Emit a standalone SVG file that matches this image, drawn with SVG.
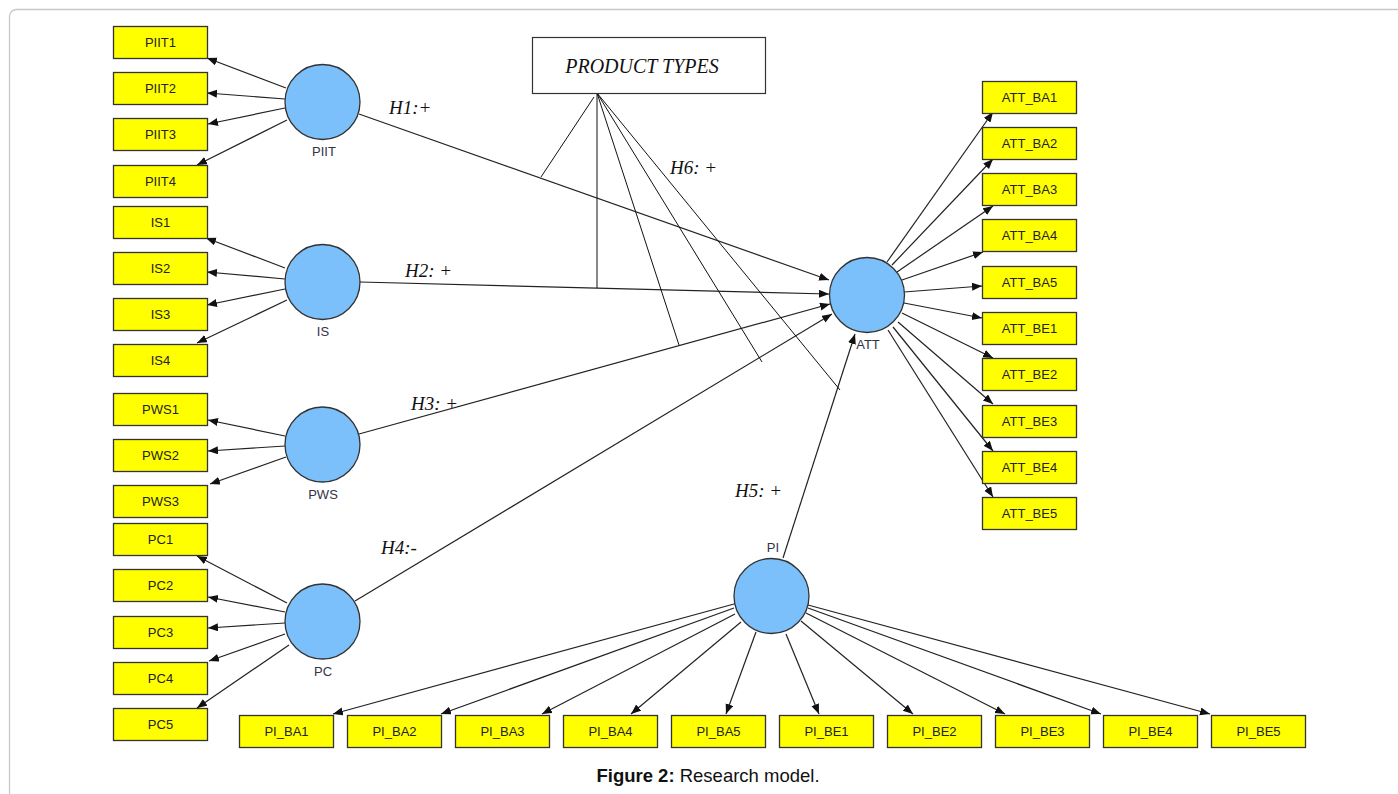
<svg xmlns="http://www.w3.org/2000/svg" width="1398" height="794" viewBox="0 0 1398 794">
<defs>
<marker id="ah" markerUnits="userSpaceOnUse" markerWidth="11" markerHeight="9" refX="10" refY="4" orient="auto">
<path d="M0,0 L10,4 L0,8 z" fill="#111"/>
</marker>
<style>
.box{fill:#FFFF00;stroke:#333;stroke-width:1.3}
.bt{font-family:"Liberation Sans",Arial,sans-serif;font-size:13px;fill:#222;text-anchor:middle}
.lv{fill:#7BBFFB;stroke:#333;stroke-width:1.3}
.lt{font-family:"Liberation Sans",Arial,sans-serif;font-size:13px;fill:#334;text-anchor:middle}
.e{stroke:#222;stroke-width:1.2;fill:none;marker-end:url(#ah)}
.m{stroke:#111;stroke-width:1;fill:none}
.h{font-family:"Liberation Serif","Times New Roman",serif;font-style:italic;font-size:19px;fill:#111}
.pt{font-size:20px}
</style>
</defs>
<rect x="9.5" y="9.5" width="1400" height="800" rx="7" fill="#fff" stroke="#c8c8c8" stroke-width="1.3"/>

<g id="connectors">
<path class="e" d="M286,88 L207,58"/>
<path class="e" d="M285,99 L207,93"/>
<path class="e" d="M285,108 L208,124"/>
<path class="e" d="M287,120 L197,165"/>
<path class="e" d="M285,268 L206,238"/>
<path class="e" d="M285,279 L207,272"/>
<path class="e" d="M285,289 L207,305"/>
<path class="e" d="M287,300 L197,343"/>
<path class="e" d="M285,436 L208,420"/>
<path class="e" d="M285,446 L208,451"/>
<path class="e" d="M286,457 L210,484"/>
<path class="e" d="M287,603 L197,556"/>
<path class="e" d="M285,612 L208,597"/>
<path class="e" d="M285,623 L208,628"/>
<path class="e" d="M285,634 L209,661"/>
<path class="e" d="M289,645 L197,708"/>
<path class="e" d="M359,114 L829,280"/>
<path class="e" d="M360,282 L829,294"/>
<path class="e" d="M359,434 L830,304"/>
<path class="e" d="M355,601 L832,314"/>
<path class="e" d="M783,558 L855,334"/>
<path class="e" d="M887,262 L993,112"/>
<path class="e" d="M892,265 L993,159"/>
<path class="e" d="M897,272 L993,206"/>
<path class="e" d="M902,280 L983,252"/>
<path class="e" d="M904,292 L982,286"/>
<path class="e" d="M904,303 L982,318"/>
<path class="e" d="M902,313 L993,358"/>
<path class="e" d="M898,322 L993,404"/>
<path class="e" d="M893,327 L993,451"/>
<path class="e" d="M888,330 L993,497"/>
<path class="e" d="M734,604 L333,714"/>
<path class="e" d="M734,608 L441,714"/>
<path class="e" d="M735,614 L542,714"/>
<path class="e" d="M741,622 L631,714"/>
<path class="e" d="M756,632 L726,714"/>
<path class="e" d="M786,634 L819,714"/>
<path class="e" d="M801,621 L913,714"/>
<path class="e" d="M806,613 L1005,714"/>
<path class="e" d="M808,608 L1101,714"/>
<path class="e" d="M808,605 L1210,714"/>
<path class="m" d="M594,97 L541,177"/>
<path class="m" d="M597,93 L597,288"/>
<path class="m" d="M597,93 L679,345"/>
<path class="m" d="M597,93 L762,362"/>
<path class="m" d="M597,93 L840,390"/>
</g>

<g id="labels">
<text class="h" x="389" y="114">H1:+</text>
<text class="h" x="405" y="277">H2: +</text>
<text class="h" x="411" y="410">H3: +</text>
<text class="h" x="381" y="554">H4:-</text>
<text class="h" x="735" y="497">H5: +</text>
<text class="h" x="670" y="174">H6: +</text>
</g>

<g id="product-types">
<rect x="532.5" y="37.5" width="233" height="56" fill="#fff" stroke="#333" stroke-width="1.2"/>
<text class="h pt" x="642" y="73" text-anchor="middle">PRODUCT TYPES</text>
</g>

<g id="PIIT"><circle class="lv" cx="322.5" cy="102" r="37.5"/><text class="lt" x="324" y="156">PIIT</text></g>
<g id="IS"><circle class="lv" cx="322.5" cy="282" r="37.5"/><text class="lt" x="323" y="336">IS</text></g>
<g id="PWS"><circle class="lv" cx="322.5" cy="444.5" r="37.5"/><text class="lt" x="323" y="499">PWS</text></g>
<g id="PC"><circle class="lv" cx="322.5" cy="621.5" r="37.5"/><text class="lt" x="323" y="676">PC</text></g>
<g id="ATT"><circle class="lv" cx="867" cy="295" r="37.5"/><text class="lt" x="868" y="349">ATT</text></g>
<g id="PI"><circle class="lv" cx="771.5" cy="596" r="37.5"/><text class="lt" x="773" y="552">PI</text></g>

<g id="PIIT1"><rect class="box" x="113.5" y="26.5" width="94" height="32"/><text class="bt" x="160.5" y="47">PIIT1</text></g>
<g id="PIIT2"><rect class="box" x="113.5" y="72.5" width="94" height="32"/><text class="bt" x="160.5" y="93">PIIT2</text></g>
<g id="PIIT3"><rect class="box" x="113.5" y="118.5" width="94" height="32"/><text class="bt" x="160.5" y="139">PIIT3</text></g>
<g id="PIIT4"><rect class="box" x="113.5" y="165.5" width="94" height="32"/><text class="bt" x="160.5" y="186">PIIT4</text></g>
<g id="IS1"><rect class="box" x="113.5" y="206.5" width="94" height="32"/><text class="bt" x="160.5" y="227">IS1</text></g>
<g id="IS2"><rect class="box" x="113.5" y="252.5" width="94" height="32"/><text class="bt" x="160.5" y="273">IS2</text></g>
<g id="IS3"><rect class="box" x="113.5" y="298.5" width="94" height="32"/><text class="bt" x="160.5" y="319">IS3</text></g>
<g id="IS4"><rect class="box" x="113.5" y="344.5" width="94" height="32"/><text class="bt" x="160.5" y="365">IS4</text></g>
<g id="PWS1"><rect class="box" x="113.5" y="393.5" width="94" height="32"/><text class="bt" x="160.5" y="414">PWS1</text></g>
<g id="PWS2"><rect class="box" x="113.5" y="439.5" width="94" height="32"/><text class="bt" x="160.5" y="460">PWS2</text></g>
<g id="PWS3"><rect class="box" x="113.5" y="485.5" width="94" height="32"/><text class="bt" x="160.5" y="506">PWS3</text></g>
<g id="PC1"><rect class="box" x="113.5" y="523.5" width="94" height="32"/><text class="bt" x="160.5" y="544">PC1</text></g>
<g id="PC2"><rect class="box" x="113.5" y="569.5" width="94" height="32"/><text class="bt" x="160.5" y="590">PC2</text></g>
<g id="PC3"><rect class="box" x="113.5" y="616.5" width="94" height="32"/><text class="bt" x="160.5" y="637">PC3</text></g>
<g id="PC4"><rect class="box" x="113.5" y="662.5" width="94" height="32"/><text class="bt" x="160.5" y="683">PC4</text></g>
<g id="PC5"><rect class="box" x="113.5" y="708.5" width="94" height="32"/><text class="bt" x="160.5" y="729">PC5</text></g>

<g id="ATT_BA1"><rect class="box" x="982.5" y="81.5" width="94" height="32"/><text class="bt" x="1029.5" y="102">ATT_BA1</text></g>
<g id="ATT_BA2"><rect class="box" x="982.5" y="127.5" width="94" height="32"/><text class="bt" x="1029.5" y="148">ATT_BA2</text></g>
<g id="ATT_BA3"><rect class="box" x="982.5" y="173.5" width="94" height="32"/><text class="bt" x="1029.5" y="194">ATT_BA3</text></g>
<g id="ATT_BA4"><rect class="box" x="982.5" y="219.5" width="94" height="32"/><text class="bt" x="1029.5" y="240">ATT_BA4</text></g>
<g id="ATT_BA5"><rect class="box" x="982.5" y="266.5" width="94" height="32"/><text class="bt" x="1029.5" y="287">ATT_BA5</text></g>
<g id="ATT_BE1"><rect class="box" x="982.5" y="312.5" width="94" height="32"/><text class="bt" x="1029.5" y="333">ATT_BE1</text></g>
<g id="ATT_BE2"><rect class="box" x="982.5" y="358.5" width="94" height="32"/><text class="bt" x="1029.5" y="379">ATT_BE2</text></g>
<g id="ATT_BE3"><rect class="box" x="982.5" y="405.5" width="94" height="32"/><text class="bt" x="1029.5" y="426">ATT_BE3</text></g>
<g id="ATT_BE4"><rect class="box" x="982.5" y="451.5" width="94" height="32"/><text class="bt" x="1029.5" y="472">ATT_BE4</text></g>
<g id="ATT_BE5"><rect class="box" x="982.5" y="497.5" width="94" height="32"/><text class="bt" x="1029.5" y="518">ATT_BE5</text></g>

<g id="PI_BA1"><rect class="box" x="239.5" y="715.5" width="94" height="32"/><text class="bt" x="286.5" y="736">PI_BA1</text></g>
<g id="PI_BA2"><rect class="box" x="347.5" y="715.5" width="94" height="32"/><text class="bt" x="394.5" y="736">PI_BA2</text></g>
<g id="PI_BA3"><rect class="box" x="455.5" y="715.5" width="94" height="32"/><text class="bt" x="502.5" y="736">PI_BA3</text></g>
<g id="PI_BA4"><rect class="box" x="563.5" y="715.5" width="94" height="32"/><text class="bt" x="610.5" y="736">PI_BA4</text></g>
<g id="PI_BA5"><rect class="box" x="671.5" y="715.5" width="94" height="32"/><text class="bt" x="718.5" y="736">PI_BA5</text></g>
<g id="PI_BE1"><rect class="box" x="779.5" y="715.5" width="94" height="32"/><text class="bt" x="826.5" y="736">PI_BE1</text></g>
<g id="PI_BE2"><rect class="box" x="887.5" y="715.5" width="94" height="32"/><text class="bt" x="934.5" y="736">PI_BE2</text></g>
<g id="PI_BE3"><rect class="box" x="995.5" y="715.5" width="94" height="32"/><text class="bt" x="1042.5" y="736">PI_BE3</text></g>
<g id="PI_BE4"><rect class="box" x="1103.5" y="715.5" width="94" height="32"/><text class="bt" x="1150.5" y="736">PI_BE4</text></g>
<g id="PI_BE5"><rect class="box" x="1211.5" y="715.5" width="94" height="32"/><text class="bt" x="1258.5" y="736">PI_BE5</text></g>

<text x="708" y="782" text-anchor="middle" font-family="Liberation Sans, Arial, sans-serif" font-size="18.5" fill="#111"><tspan font-weight="bold">Figure 2:</tspan> Research model.</text>
</svg>
